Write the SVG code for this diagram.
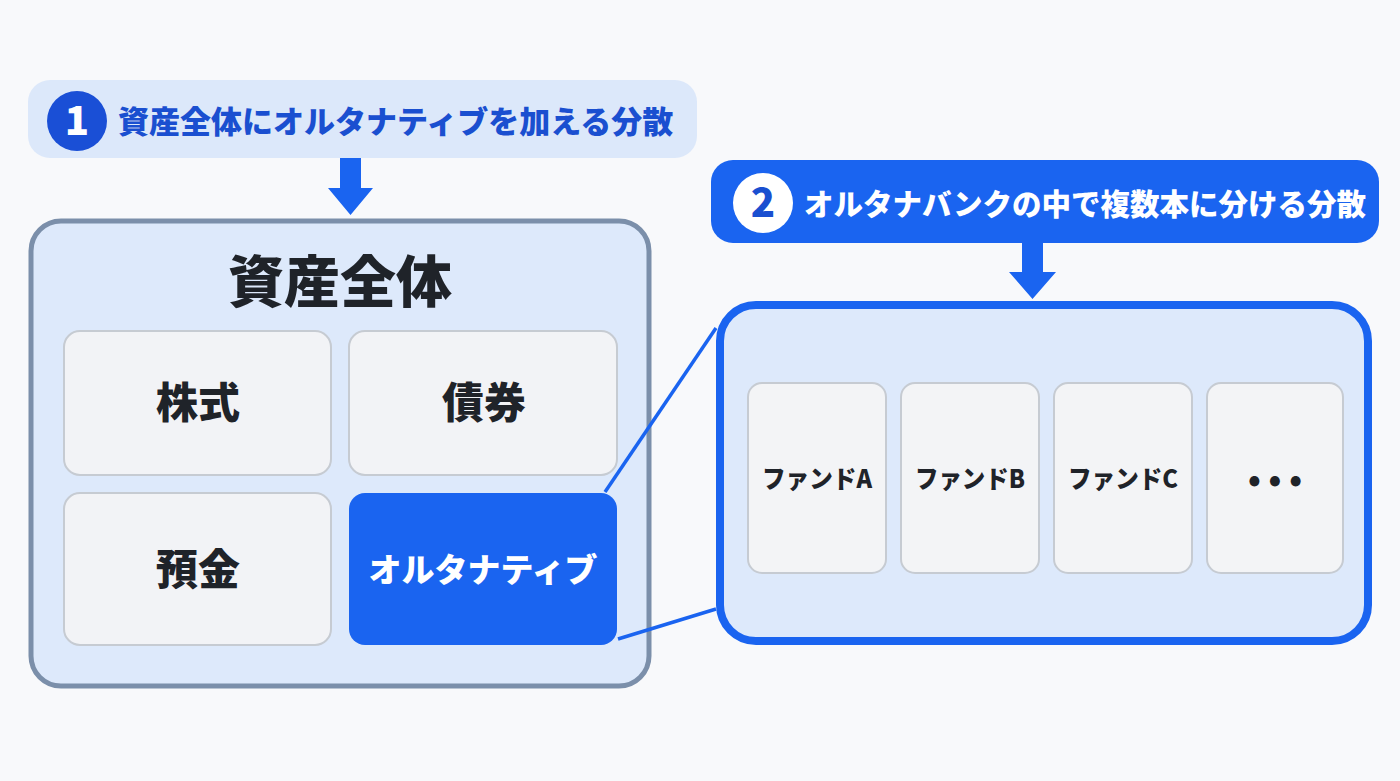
<svg xmlns="http://www.w3.org/2000/svg" width="1400" height="781" viewBox="0 0 1400 781">
<style>
text{font-family:"Noto Sans CJK JP","Noto Sans",sans-serif;font-weight:900;}
.cell{fill:#f2f3f6;stroke:#c6cbd2;stroke-width:2;}
.ct{fill:#1f2329;font-size:42px;text-anchor:middle;}
.fund{fill:#f3f4f6;stroke:#c6cbd2;stroke-width:2;}
.ft{fill:#1f2329;font-size:25px;text-anchor:middle;}
.blue{fill:#1a64f0;}
.link{stroke:#1a64f0;stroke-width:3.5;fill:none;}
</style>
<rect width="1400" height="781" fill="#f8f9fb"/>

<g id="banner1">
<rect x="28" y="80" width="669" height="78" rx="22" fill="#dce8fa"/>
<circle cx="77" cy="121" r="30" fill="#1a4fd6"/>
<text x="77" y="135" font-size="40" fill="#ffffff" text-anchor="middle" font-family="Liberation Sans,sans-serif" font-weight="700">1</text>
<text x="118" y="133" font-size="31" fill="#1a4fd0">資産全体にオルタナティブを加える分散</text>
</g>

<g id="banner2">
<rect x="711" y="160" width="668" height="83" rx="22" class="blue"/>
<circle cx="763" cy="203" r="30" fill="#ffffff"/>
<text x="763" y="217" font-size="40" fill="#1a4fd0" text-anchor="middle" font-family="Liberation Sans,sans-serif" font-weight="700">2</text>
<text x="804" y="215" font-size="29.5" fill="#ffffff">オルタナバンクの中で複数本に分ける分散</text>
</g>

<g id="assets">
<rect x="31" y="221" width="618" height="465" rx="30" fill="#dde9fb" stroke="#7b8faa" stroke-width="5"/>
<text x="340" y="302" font-size="56" fill="#1f2329" text-anchor="middle">資産全体</text>
</g>

<g id="stocks">
<rect x="64" y="331" width="267" height="144" rx="16" class="cell"/>
<text x="198" y="418" class="ct">株式</text>
</g>
<g id="bonds">
<rect x="349" y="331" width="268" height="144" rx="16" class="cell"/>
<text x="484" y="418" class="ct">債券</text>
</g>
<g id="deposits">
<rect x="64" y="493" width="267" height="152" rx="16" class="cell"/>
<text x="198" y="585" class="ct">預金</text>
</g>
<g id="alternative">
<rect x="349" y="493" width="268" height="152" rx="16" class="blue"/>
<text x="483" y="582" font-size="33" fill="#ffffff" text-anchor="middle">オルタナティブ</text>
</g>

<g id="altbank">
<rect x="720" y="305" width="648" height="336" rx="36" fill="#dde9fb" stroke="#1a64f0" stroke-width="8"/>
</g>

<g id="fundA">
<rect x="748" y="383" width="138" height="190" rx="14" class="fund"/>
<text x="817" y="488" class="ft" textLength="110" lengthAdjust="spacingAndGlyphs">ファンドA</text>
</g>
<g id="fundB">
<rect x="901" y="383" width="138" height="190" rx="14" class="fund"/>
<text x="970" y="488" class="ft" textLength="110" lengthAdjust="spacingAndGlyphs">ファンドB</text>
</g>
<g id="fundC">
<rect x="1054" y="383" width="138" height="190" rx="14" class="fund"/>
<text x="1123" y="488" class="ft" textLength="110" lengthAdjust="spacingAndGlyphs">ファンドC</text>
</g>
<g id="more">
<rect x="1207" y="383" width="136" height="190" rx="14" class="fund"/>
<text x="1275" y="491" fill="#1f2329" text-anchor="middle" font-family="Liberation Sans,sans-serif" font-weight="700" font-size="32" textLength="54" lengthAdjust="spacing">•••</text>
</g>

<g id="connectors">
<path d="M340 158 H361 V188 H373 L350.5 215 L328 188 H340 Z" class="blue"/>
<path d="M1022 243 H1043 V272 H1056 L1032.5 299 L1009 272 H1022 Z" class="blue"/>
<line x1="605" y1="492" x2="716" y2="328" class="link"/>
<line x1="618" y1="639" x2="716" y2="609" class="link"/>
</g>
</svg>
